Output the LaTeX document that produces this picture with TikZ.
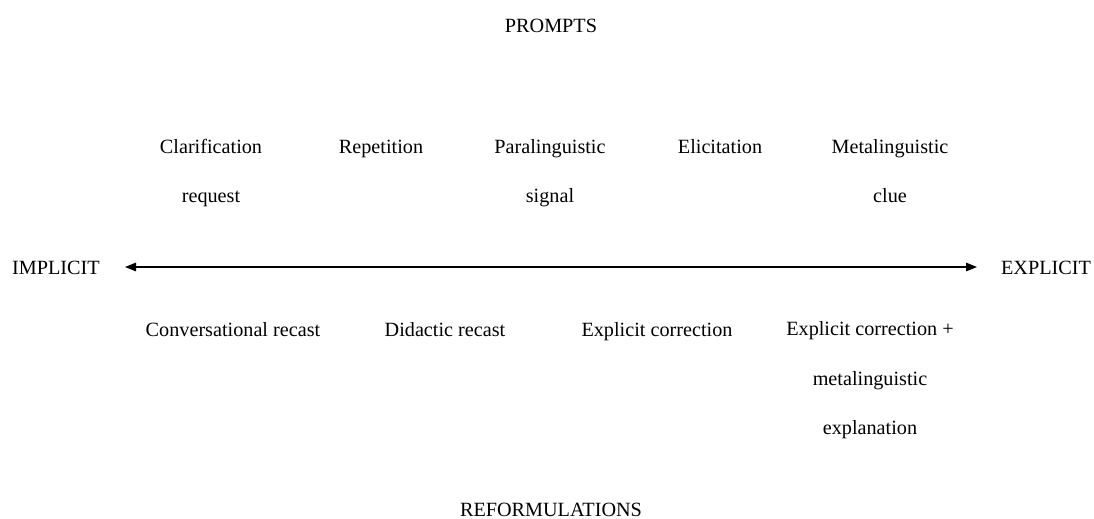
\documentclass[tikz,border=0pt]{standalone}
\usepackage{fontspec}
\setmainfont{Liberation Serif}
\usetikzlibrary{arrows.meta}

\tikzset{
  lbl/.style={anchor=base,align=center,inner sep=0pt,font=\fontsize{11.5}{28}\selectfont},
  axis/.style={line width=0.7pt,{Triangle[length=0.22cm,width=0.17cm]}-{Triangle[length=0.22cm,width=0.17cm]}}
}

\begin{document}
\begin{tikzpicture}
\useasboundingbox (0,0) rectangle (21.880,-10.360);
% multi-line labels sit on their last line
\node[lbl] (prompts) at (11.020,-0.640) {PROMPTS};
\node[lbl] (clar) at (4.220,-4.054) {Clarification\\request};
\node[lbl] (rep) at (7.620,-3.070) {Repetition};
\node[lbl] (para) at (11.000,-4.054) {Paralinguistic\\signal};
\node[lbl] (elic) at (14.400,-3.070) {Elicitation};
\node[lbl] (meta) at (17.800,-4.054) {Metalinguistic\\clue};
\node[lbl] (implicit) at (1.120,-5.480) {IMPLICIT};
\node[lbl] (explicit) at (20.920,-5.480) {EXPLICIT};
\coordinate (left) at (2.500,-5.340);
\coordinate (right) at (19.540,-5.340);
\draw[axis] (left) -- (right);
\node[lbl] (conv) at (4.660,-6.720) {Conversational recast};
\node[lbl] (didac) at (8.900,-6.720) {Didactic recast};
\node[lbl] (expl) at (13.140,-6.720) {Explicit correction};
\node[lbl] (explmeta) at (17.400,-8.688) {Explicit correction +\\metalinguistic\\explanation};
\node[lbl] (reform) at (11.020,-10.320) {REFORMULATIONS};
\end{tikzpicture}
\end{document}
